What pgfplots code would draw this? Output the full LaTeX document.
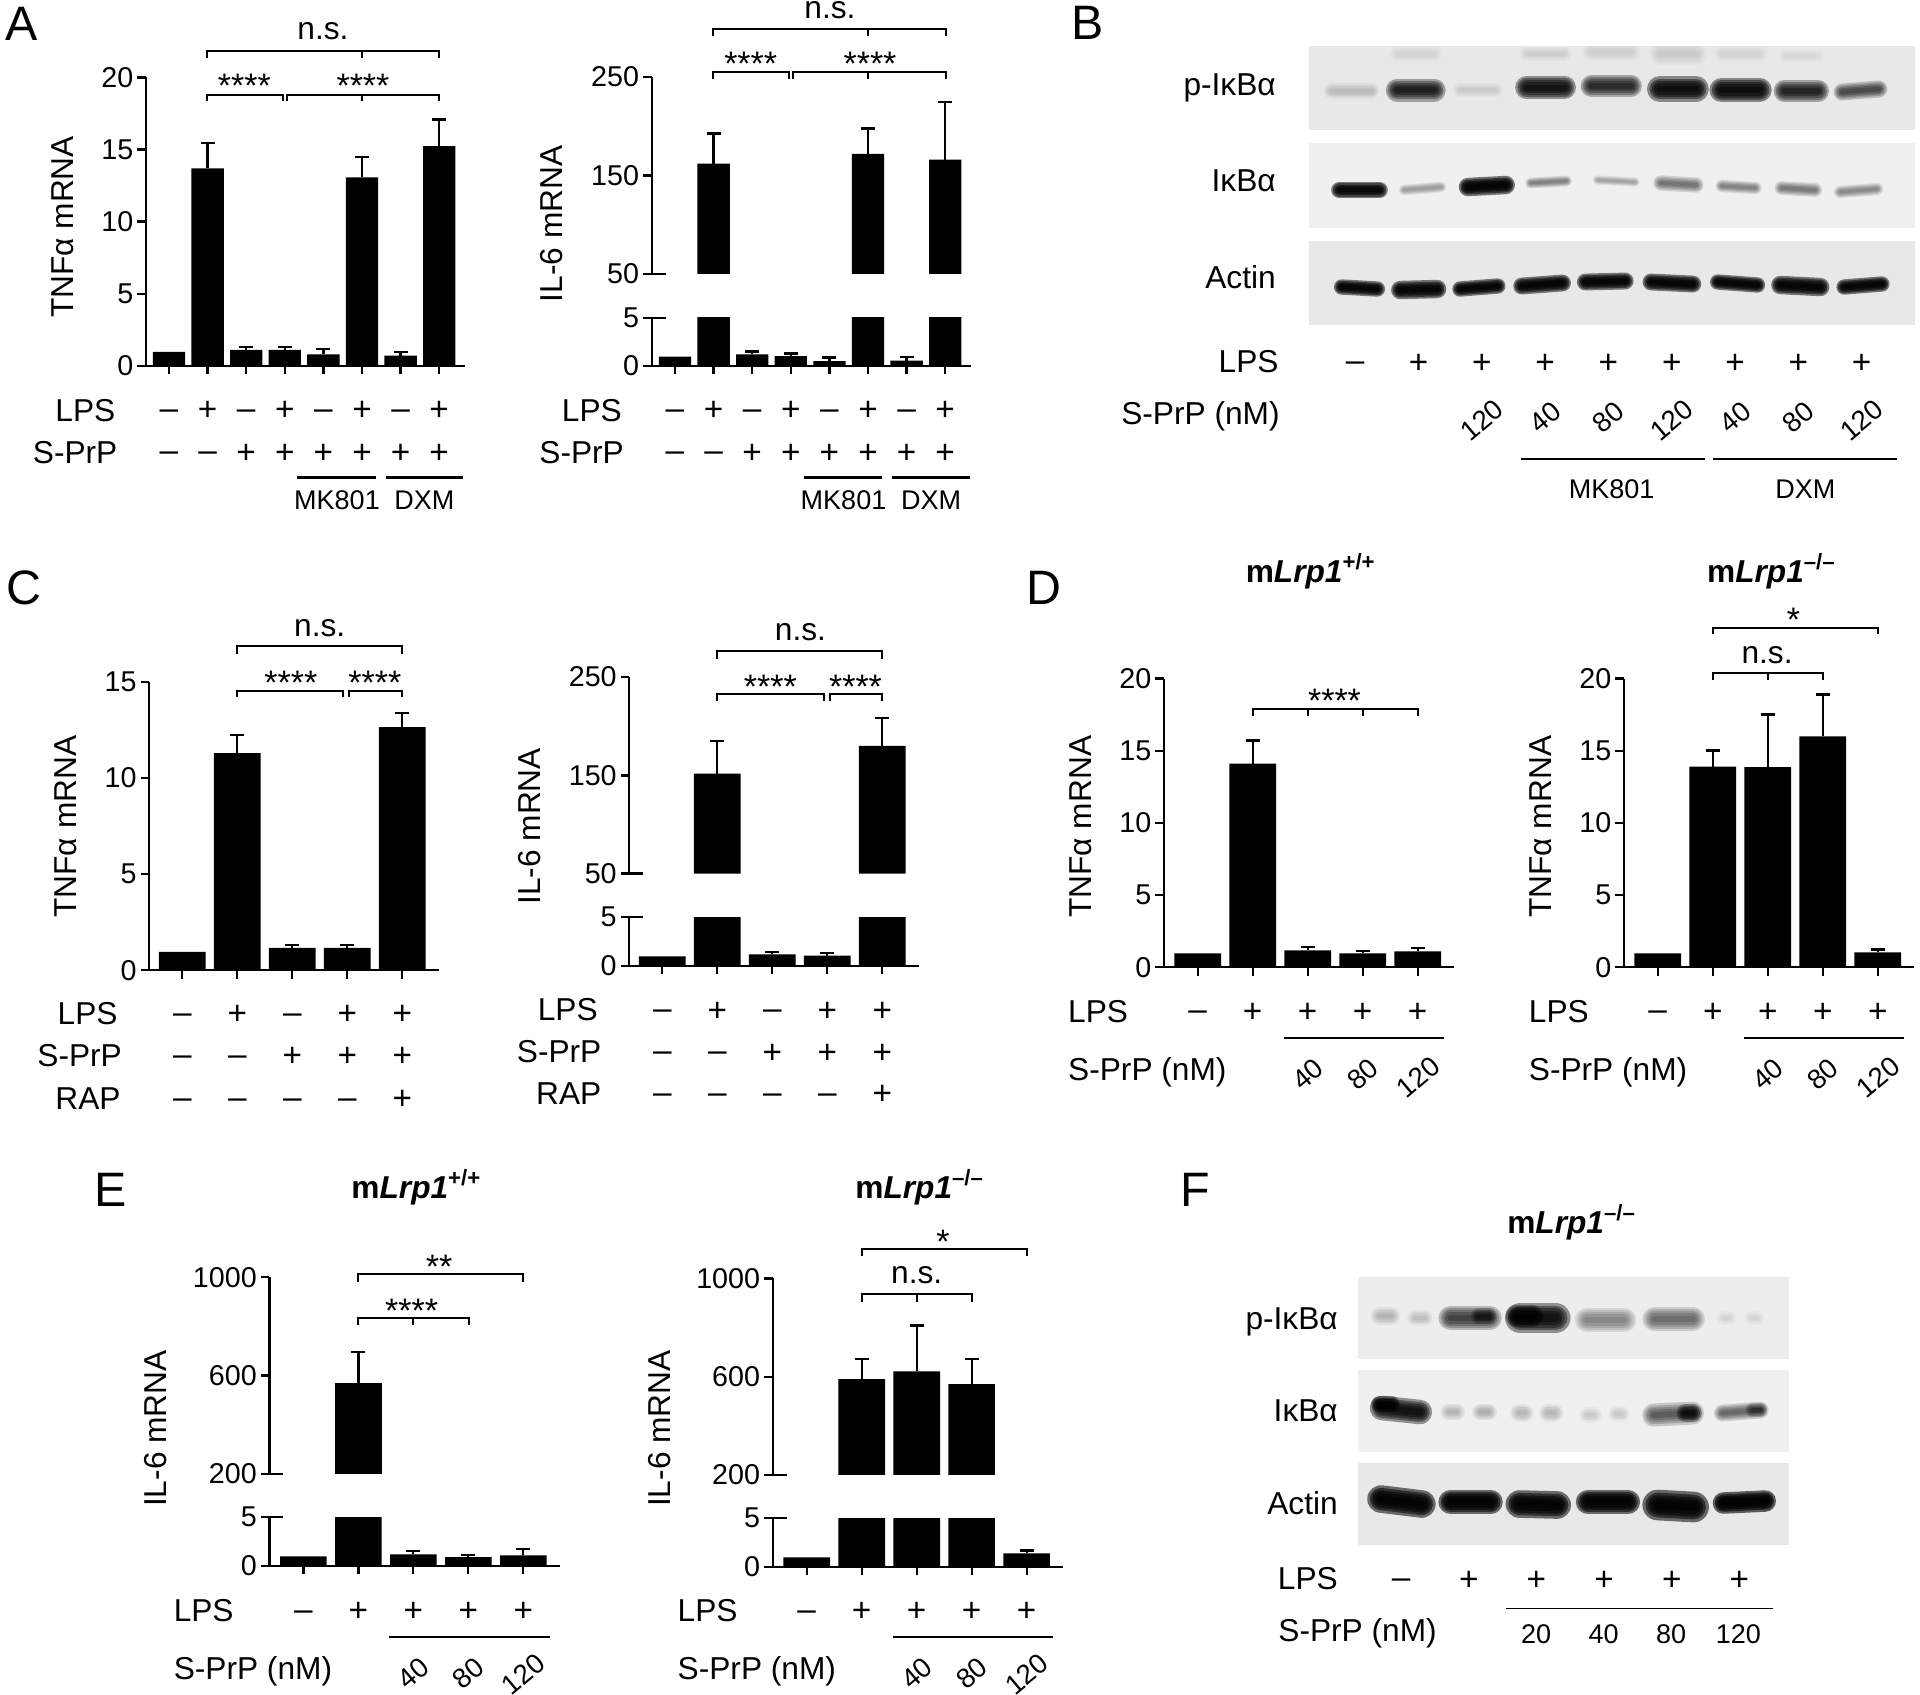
\documentclass[border=0pt]{standalone}
\usepackage{fontspec}
\setmainfont{Liberation Sans}
\usepackage{pgfplots}
\usepackage{pgfplotstable}
\pgfplotsset{compat=1.18}

% one reference pixel
\def\u{0.3pt}
\def\lw{0.68pt}

\newcommand\lbl{\fontsize{9.5}{11}\selectfont}
\newcommand\smalllbl{\fontsize{8.1}{10}\selectfont}
\newcommand\signfont{\fontsize{10}{11}\selectfont}

\pgfplotsset{
  mrna/.style={scale only axis,anchor=south west,
    axis x line=bottom,axis y line=left,
    axis line style={-,line width=\lw,black},
    tick style={line width=\lw,black},
    major tick length=2.6pt,tick align=outside,
    xticklabels={},scaled y ticks=false,
    /pgf/number format/assume math mode=true,
    /pgf/number format/1000 sep={},
    tick label style={font=\fontsize{8.6}{10}\selectfont,inner sep=1pt}},
  place/.style n args={6}{at={(#1*\u,-#2*\u)},width=#3*\u,height=#4*\u,xmin=#5,xmax=#6},
  % left right top bottom in pixels, then the x range the bands are written in, then grey
  blot/.style n args={7}{scale only axis,anchor=south west,
    at={(#1*\u,-#4*\u)},width=#2*\u-#1*\u,height=#4*\u-#3*\u,
    xmin=#5,xmax=#6,ymin=#3,ymax=#4,y dir=reverse,ticks=none,
    axis line style={draw=none},axis background/.style={fill=black!#7!white}},
  bandline/.style={black,no marks,line cap=round,forget plot},
}

% bars and their upper error, same table for both halves of a broken axis
\newcommand\bars[3][]{\addplot[ybar,bar width=#2,bar shift=0pt,fill=black,draw=none,#1,
  error bars/.cd,y dir=plus,y explicit,
  error bar style={draw=black,line width=\lw},
  error mark options={draw=black,rotate=90,mark size=2.1pt,line width=\lw}]
  table[x=x,y=y,y error=e] {#3};}

% band on a blot: x0 x1 y0 y1 thickness opacity, stacked strokes for the soft edge
\newcommand\band[6]{%
  \addplot[bandline,line width=#5*0.46pt,draw opacity=#6] coordinates {(#1,#3) (#2,#4)};
  \addplot[bandline,line width=#5*0.37pt,draw opacity=#6] coordinates {(#1,#3) (#2,#4)};
  \addplot[bandline,line width=#5*0.29pt,draw opacity=#6] coordinates {(#1,#3) (#2,#4)};
  \addplot[bandline,line width=#5*0.21pt,draw opacity=#6] coordinates {(#1,#3) (#2,#4)};
  \addplot[bandline,line width=#5*0.12pt,draw opacity=#6] coordinates {(#1,#3) (#2,#4)};
}

% annotation helpers, all in reference pixels
\newcommand\brk[4]{\draw[brline] (#1,#4) -- (#1,#3) -- (#2,#3) -- (#2,#4);}
\newcommand\tck[3]{\draw[brline] (#1,#2) -- (#1,#3);}
\newcommand\stars[3]{\node[ctr,font=\fontsize{10.2}{11}\selectfont] at (#1,#2) {#3};}
\newcommand\signrow[4]{\foreach \s [count=\i from 0] in {#4} {%
  \pgfmathsetmacro\xx{#2+#3*\i}%
  \csname sign\s\endcsname{\xx}{#1}}}
\newcommand\signp[2]{\node[ctr,font=\signfont] at (#1,#2+11) {+};}
\newcommand\signm[2]{\node[ctr,font=\signfont] at (#1,#2+9.5) {–};}
\newcommand\rotnum[3]{\node[inner sep=0pt,rotate=40,font=\fontsize{8.3}{10}\selectfont] at (#1,#2) {#3};}
\newcommand\stub[3]{\draw[line width=\lw] (#1,#2) -- (#1+14,#2); \draw[line width=\lw] (#1,#3) -- (#1+14,#3);}
\newcommand\ul[3]{\draw[line width=0.65pt] (#1,#3) -- (#2,#3);}

\pgfplotstableread{
x y e
0 0.96 nan
1 13.7 1.73
2 1.10 0.19
3 1.10 0.19
4 0.80 0.37
5 13.06 1.41
6 0.70 0.26
7 15.24 1.85
}\tabAl
\pgfplotstableread{
x y e
0 0.96 nan
1 162 30.6
2 1.20 0.28
3 1.02 0.25
4 0.50 0.38
5 172 25.8
6 0.53 0.42
7 166 58.6
}\tabAr
\pgfplotstableread{
x y e
0 0.96 nan
1 11.29 0.96
2 1.17 0.15
3 1.17 0.15
4 12.64 0.74
}\tabCl
\pgfplotstableread{
x y e
0 0.96 nan
1 151.8 33.2
2 1.18 0.25
3 1.03 0.26
4 180 28.7
}\tabCr
\pgfplotstableread{
x y e
0 0.96 nan
1 14.1 1.6
2 1.17 0.24
3 0.96 0.16
4 1.10 0.23
}\tabDl
\pgfplotstableread{
x y e
0 0.96 nan
1 13.9 1.12
2 13.87 3.63
3 16.0 2.9
4 1.04 0.19
}\tabDr
\pgfplotstableread{
x y e
0 0.96 nan
1 569 126
2 1.18 0.32
3 0.89 0.21
4 1.07 0.64
}\tabEl
\pgfplotstableread{
x y e
0 0.96 nan
1 590 82
2 621 187
3 570 102
4 1.38 0.29
}\tabEr

\begin{document}
\begin{tikzpicture}
\useasboundingbox (0,0) rectangle (1920*\u,-1694*\u);

% ---- A
\begin{axis}[mrna,place={146}{365.8}{319}{288.4}{-0.596}{7.668},ymin=0,ymax=20,ytick={0,5,10,15,20},xtick={0,...,7}]
\bars{9.7pt}{\tabAl}
\end{axis}
\begin{axis}[mrna,place={651.7}{365.8}{319.3}{48}{-0.604}{7.668},ymin=0,ymax=5,ytick={0,5},xtick={0,...,7}]
\bars{9.7pt}{\tabAr}
\end{axis}
\begin{axis}[mrna,axis x line=none,place={651.7}{273.8}{319.3}{196.7}{-0.604}{7.668},ymin=50,ymax=250,ytick={50,150,250}]
\bars[restrict y to domain=10:100000]{9.7pt}{\tabAr}
\end{axis}

% ---- C
\begin{axis}[mrna,place={149.3}{970.3}{290}{288.5}{-0.6}{4.673},ymin=0,ymax=15,ytick={0,5,10,15},xtick={0,...,4}]
\bars{14pt}{\tabCl}
\end{axis}
\begin{axis}[mrna,place={629.3}{965.7}{290}{48.6}{-0.6}{4.673},ymin=0,ymax=5,ytick={0,5},xtick={0,...,4}]
\bars{14pt}{\tabCr}
\end{axis}
\begin{axis}[mrna,axis x line=none,place={629.3}{873.6}{290}{196.5}{-0.6}{4.673},ymin=50,ymax=250,ytick={50,150,250}]
\bars[restrict y to domain=10:100000]{14pt}{\tabCr}
\end{axis}

% ---- D
\begin{axis}[mrna,place={1164}{967.3}{290.3}{288.8}{-0.613}{4.665},ymin=0,ymax=20,ytick={0,5,10,15,20},xtick={0,...,4}]
\bars{14pt}{\tabDl}
\end{axis}
\begin{axis}[mrna,place={1624}{967.3}{290.3}{288.8}{-0.613}{4.665},ymin=0,ymax=20,ytick={0,5,10,15,20},xtick={0,...,4}]
\bars{14pt}{\tabDr}
\end{axis}

% ---- E
\begin{axis}[mrna,place={269.4}{1565.7}{290.6}{48.6}{-0.618}{4.667},ymin=0,ymax=5,ytick={0,5},xtick={0,...,4}]
\bars{14pt}{\tabEl}
\end{axis}
\begin{axis}[mrna,axis x line=none,place={269.4}{1473.7}{290.6}{196.4}{-0.618}{4.667},ymin=200,ymax=1000,ytick={200,600,1000}]
\bars[restrict y to domain=10:100000]{14pt}{\tabEl}
\end{axis}
\begin{axis}[mrna,place={772.7}{1566.7}{290.6}{48.6}{-0.618}{4.667},ymin=0,ymax=5,ytick={0,5},xtick={0,...,4}]
\bars{14pt}{\tabEr}
\end{axis}
\begin{axis}[mrna,axis x line=none,place={772.7}{1474.8}{290.6}{196.4}{-0.618}{4.667},ymin=200,ymax=1000,ytick={200,600,1000}]
\bars[restrict y to domain=10:100000]{14pt}{\tabEr}
\end{axis}

% ---- B blots
\begin{axis}[blot={1309.2}{1915}{46}{130}{1310.5}{1919.3}{9}]
\band{1333}{1373}{91}{91}{10}{0.04}
\band{1399}{1436}{90}{90}{15}{0.32}
\band{1462}{1498}{90}{90}{9}{0.025}
\band{1529}{1567}{87.5}{87.5}{15}{0.38}
\band{1594}{1634}{86}{86}{14}{0.28}
\band{1663}{1699}{89}{89}{17}{0.42}
\band{1725}{1763}{90}{90}{16}{0.42}
\band{1788}{1822}{91}{91}{14}{0.30}
\band{1846}{1883}{92}{89}{11}{0.20}
\band{1399}{1436}{54}{54}{10}{0.015}
\band{1529}{1567}{54}{54}{9}{0.02}
\band{1594}{1634}{52}{52}{12}{0.02}
\band{1663}{1699}{54}{54}{14}{0.025}
\band{1725}{1763}{54}{54}{10}{0.015}
\band{1788}{1822}{56}{56}{8}{0.012}
\end{axis}
\begin{axis}[blot={1309.2}{1915}{143}{228}{1310.5}{1919.3}{6}]
\band{1341}{1381}{190}{190}{11}{0.48}
\band{1406}{1443}{190}{187}{7}{0.08}
\band{1470}{1508}{187}{185}{12}{0.52}
\band{1533}{1569}{183}{181}{7}{0.11}
\band{1600}{1638}{180}{182}{6}{0.07}
\band{1664}{1699}{183}{185}{10}{0.13}
\band{1725}{1759}{186}{188}{8}{0.11}
\band{1785}{1819}{188}{190}{9}{0.12}
\band{1844}{1881}{192}{189}{8}{0.10}
\end{axis}
\begin{axis}[blot={1309.2}{1915}{241}{325}{1310.5}{1919.3}{9}]
\band{1343}{1379}{287}{289}{10}{0.5}
\band{1402}{1439}{290}{289}{12}{0.5}
\band{1462}{1500}{289}{286}{10}{0.5}
\band{1524}{1565}{286}{283}{11}{0.5}
\band{1588}{1628}{282}{281}{11}{0.5}
\band{1654}{1696}{282}{284}{11}{0.5}
\band{1721}{1761}{282}{285}{10}{0.5}
\band{1784}{1824}{285}{287}{12}{0.5}
\band{1848}{1886}{287}{284}{10}{0.5}
\end{axis}

% ---- F blots
\begin{axis}[blot={1357.6}{1789.1}{1277}{1358.7}{1358.5}{1792}{7}]
\band{1381}{1392}{1316}{1316}{12}{0.05}
\band{1416}{1426}{1318}{1318}{10}{0.04}
\band{1452}{1491}{1318}{1318}{16}{0.22}
\band{1480}{1490}{1316}{1316}{10}{0.2}
\band{1522}{1557}{1318}{1318}{20}{0.40}
\band{1518}{1534}{1316}{1316}{14}{0.35}
\band{1589}{1626}{1320}{1320}{16}{0.10}
\band{1657}{1695}{1319}{1319}{16}{0.14}
\band{1726}{1732}{1318}{1318}{9}{0.02}
\band{1754}{1760}{1318}{1318}{9}{0.02}
\end{axis}
\begin{axis}[blot={1357.6}{1789.1}{1370.3}{1452}{1358.5}{1792}{6}]
\band{1383}{1421}{1408}{1412}{16}{0.40}
\band{1380}{1393}{1404}{1404}{10}{0.4}
\band{1450}{1458}{1412}{1412}{11}{0.05}
\band{1482}{1490}{1412}{1412}{11}{0.06}
\band{1521}{1526}{1413}{1413}{12}{0.05}
\band{1550}{1556}{1413}{1413}{12}{0.05}
\band{1589}{1596}{1415}{1415}{10}{0.03}
\band{1618}{1624}{1414}{1414}{10}{0.03}
\band{1656}{1695}{1415}{1413}{15}{0.17}
\band{1688}{1695}{1413}{1413}{12}{0.3}
\band{1725}{1763}{1413}{1410}{11}{0.15}
\band{1755}{1763}{1410}{1410}{9}{0.15}
\end{axis}
\begin{axis}[blot={1357.6}{1789.1}{1463.3}{1545}{1358.5}{1792}{9}]
\band{1382}{1423}{1499}{1504}{18}{0.55}
\band{1452}{1492}{1502}{1502}{16}{0.55}
\band{1521}{1559}{1504}{1505}{18}{0.55}
\band{1590}{1630}{1502}{1502}{16}{0.55}
\band{1660}{1696}{1505}{1507}{20}{0.55}
\band{1726}{1768}{1503}{1501}{14}{0.6}
\end{axis}

\begin{scope}[x=\u,y=-\u,
  ctr/.style={inner sep=0pt,anchor=base},
  rt/.style={inner sep=0pt,anchor=base east,font=\lbl},
  lf/.style={inner sep=0pt,anchor=base west,font=\lbl},
  ttl/.style={inner sep=0pt,anchor=base,font=\lbl},
  ylab/.style={inner sep=0pt,anchor=base,rotate=90,font=\lbl},
  pan/.style={inner sep=0pt,anchor=base west,font=\fontsize{14.5}{16}\selectfont},
  brline/.style={line width=0.6pt}]

% panel letters
\node[pan] at (5,40) {A};
\node[pan] at (1071,39.3) {B};
\node[pan] at (6,604) {C};
\node[pan] at (1026,604.7) {D};
\node[pan] at (94,1206.6) {E};
\node[pan] at (1180,1206.7) {F};

% A left
\node[ylab] at (73,227) {TNFα mRNA};
\node[ctr,font=\lbl] at (323,39.6) {n.s.};
\brk{206.7}{439.3}{50.7}{58.1}\tck{362}{50.7}{58.1}
\brk{206.7}{282.7}{94.6}{101.4}\brk{287}{439.3}{94.6}{101.4}\tck{362}{94.6}{101.4}
\stars{244.3}{97.4}{****}\stars{363}{97.4}{****}
\node[rt] at (116,421) {LPS};
\node[rt] at (118,463.2) {S-PrP};
\signrow{409.7}{169}{38.6}{m,p,m,p,m,p,m,p}
\signrow{452}{169}{38.6}{m,m,p,p,p,p,p,p}
\ul{297.3}{375.7}{477.4}\ul{385.7}{463.3}{477.4}
\node[ctr,font=\smalllbl] at (337,509.8) {MK801};
\node[ctr,font=\smalllbl] at (424.3,509.8) {DXM};

% A right
\node[ylab] at (562.7,224) {IL-6 mRNA};
\node[ctr,font=\lbl] at (830,18) {n.s.};
\brk{713.3}{946}{28.7}{35.5}\tck{868.3}{28.7}{35.5}
\brk{713.3}{788.7}{71.7}{79.4}\brk{793.3}{946}{71.7}{79.4}\tck{868.3}{71.7}{79.4}
\stars{750.7}{75}{****}\stars{870}{75}{****}
\stub{651.7}{273.8}{317.8}
\node[rt] at (622.5,421) {LPS};
\node[rt] at (624.5,463.2) {S-PrP};
\signrow{409.7}{675}{38.6}{m,p,m,p,m,p,m,p}
\signrow{452}{675}{38.6}{m,m,p,p,p,p,p,p}
\ul{804}{882}{477.4}\ul{892}{970}{477.4}
\node[ctr,font=\smalllbl] at (843.5,509.8) {MK801};
\node[ctr,font=\smalllbl] at (931,509.8) {DXM};

% B text
\node[rt] at (1276.4,95) {p-IκBα};
\node[rt] at (1276.4,191.7) {IκBα};
\node[rt] at (1276.4,288.3) {Actin};
\node[rt] at (1279.2,372.7) {LPS};
\node[rt] at (1280.3,424) {S-PrP (nM)};
\signrow{362.3}{1355.2}{63.3}{m,p,p,p,p,p,p,p,p}
\rotnum{1481.8}{420}{120}\rotnum{1545.1}{417}{40}\rotnum{1608.4}{417}{80}
\rotnum{1671.7}{420}{120}\rotnum{1735}{417}{40}\rotnum{1798.3}{417}{80}\rotnum{1861.6}{420}{120}
\ul{1520.6}{1705.4}{458.7}\ul{1713.1}{1897.4}{458.7}
\node[ctr,font=\smalllbl] at (1611.6,498.3) {MK801};
\node[ctr,font=\smalllbl] at (1805.3,498.3) {DXM};

% C left
\node[ylab] at (76.5,826.6) {TNFα mRNA};
\node[ctr,font=\lbl] at (319.7,636) {n.s.};
\brk{237.3}{402.3}{646.4}{654.3}
\brk{237.3}{342.9}{690.7}{697}\brk{349}{402.3}{690.7}{697}
\stars{290.9}{694}{****}\stars{374.8}{694}{****}
\node[rt] at (118.2,1024.3) {LPS};
\node[rt] at (122.5,1066.4) {S-PrP};
\node[rt] at (121.2,1109.3) {RAP};
\signrow{1013.9}{182.3}{55}{m,p,m,p,p}
\signrow{1055.7}{182.3}{55}{m,m,p,p,p}
\signrow{1098.6}{182.3}{55}{m,m,m,m,p}

% C right
\node[ylab] at (540.7,826.3) {IL-6 mRNA};
\node[ctr,font=\lbl] at (800.4,640.4) {n.s.};
\brk{717.3}{882.3}{651.4}{658.6}
\brk{717.3}{823.6}{694.3}{701.4}\brk{829.8}{882.3}{694.3}{701.4}
\stars{770.4}{698.3}{****}\stars{855.5}{698.3}{****}
\stub{629.3}{873.6}{917.1}
\node[rt] at (598.3,1020) {LPS};
\node[rt] at (602,1062.9) {S-PrP};
\node[rt] at (602,1104.6) {RAP};
\signrow{1010}{662.3}{55}{m,p,m,p,p}
\signrow{1052.1}{662.3}{55}{m,m,p,p,p}
\signrow{1093.9}{662.3}{55}{m,m,m,m,p}

% D left
\node[ttl] at (1311,582.1) {\textbf{m\textit{Lrp1}\textsuperscript{+/+}}};
\node[ylab] at (1091,826.7) {TNFα mRNA};
\stars{1334.5}{712.6}{****}
\brk{1252.7}{1418}{709.3}{716}\tck{1307.7}{709.3}{716}\tck{1362.7}{709.3}{716}
\node[lf] at (1067.5,1022.7) {LPS};
\signrow{1011.4}{1197.7}{55}{m,p,p,p,p}
\ul{1283.5}{1444.2}{1037.7}
\node[lf] at (1067.5,1080.6) {S-PrP (nM)};
\rotnum{1307.7}{1074.2}{40}\rotnum{1362.7}{1074.2}{80}\rotnum{1418}{1077}{120}

% D right
\node[ttl] at (1771.7,582.1) {\textbf{m\textit{Lrp1}\textsuperscript{–/–}}};
\node[ylab] at (1551.6,826.7) {TNFα mRNA};
\stars{1793.4}{631}{*}
\brk{1712.7}{1878}{627.7}{634}
\node[ctr,font=\lbl] at (1767,663) {n.s.};
\brk{1712.7}{1822.7}{672.8}{680}\tck{1767.7}{672.8}{680}
\node[lf] at (1528.2,1022.7) {LPS};
\signrow{1011.4}{1657.7}{55}{m,p,p,p,p}
\ul{1744}{1903.7}{1037.7}
\node[lf] at (1528.2,1080.6) {S-PrP (nM)};
\rotnum{1767.7}{1074.2}{40}\rotnum{1822.7}{1074.2}{80}\rotnum{1878}{1077}{120}

% E left
\node[ttl] at (416.7,1198.6) {\textbf{m\textit{Lrp1}\textsuperscript{+/+}}};
\node[ylab] at (166,1428.5) {IL-6 mRNA};
\stars{439}{1278}{**}
\brk{358.4}{523.4}{1274.2}{1281.9}
\stars{411.6}{1322.5}{****}
\brk{358.4}{469}{1317.6}{1325.2}\tck{413.4}{1317.6}{1325.2}
\stub{269.4}{1473.7}{1517.1}
\node[lf] at (173.1,1621.2) {LPS};
\signrow{1610.8}{303.4}{55}{m,p,p,p,p}
\ul{389.3}{550}{1636.8}
\node[lf] at (173.1,1679.1) {S-PrP (nM)};
\rotnum{413.4}{1673}{40}\rotnum{468.4}{1673}{80}\rotnum{523.4}{1674}{120}

% E right
\node[ttl] at (920,1198.6) {\textbf{m\textit{Lrp1}\textsuperscript{–/–}}};
\node[ylab] at (670,1428.5) {IL-6 mRNA};
\stars{942.9}{1253}{*}
\brk{861.7}{1026.7}{1248.9}{1255.8}
\node[ctr,font=\lbl] at (916.7,1283.6) {n.s.};
\brk{861.7}{971.7}{1294.3}{1302}\tck{916.7}{1294.3}{1302}
\stub{772.7}{1474.8}{1518.1}
\node[lf] at (677,1621.2) {LPS};
\signrow{1610.8}{806.7}{55}{m,p,p,p,p}
\ul{893}{1053.2}{1636.8}
\node[lf] at (677,1679.1) {S-PrP (nM)};
\rotnum{916.7}{1673}{40}\rotnum{971.7}{1673}{80}\rotnum{1026.7}{1674}{120}

% F text
\node[ttl] at (1571.9,1233.3) {\textbf{m\textit{Lrp1}\textsuperscript{–/–}}};
\node[rt] at (1338.4,1329.3) {p-IκBα};
\node[rt] at (1338.4,1421.7) {IκBα};
\node[rt] at (1338.4,1514.3) {Actin};
\node[rt] at (1338.4,1589.3) {LPS};
\signrow{1579.3}{1401.1}{67.66}{m,p,p,p,p,p}
\draw[line width=0.4pt] (1505.9,1608.3) -- (1772.9,1608.3);
\node[lf] at (1277.7,1641.7) {S-PrP (nM)};
\node[ctr,font=\smalllbl] at (1536,1643.3) {20};
\node[ctr,font=\smalllbl] at (1603.5,1643.3) {40};
\node[ctr,font=\smalllbl] at (1671,1643.3) {80};
\node[ctr,font=\smalllbl] at (1738.4,1643.3) {120};
\end{scope}
\end{tikzpicture}
\end{document}
